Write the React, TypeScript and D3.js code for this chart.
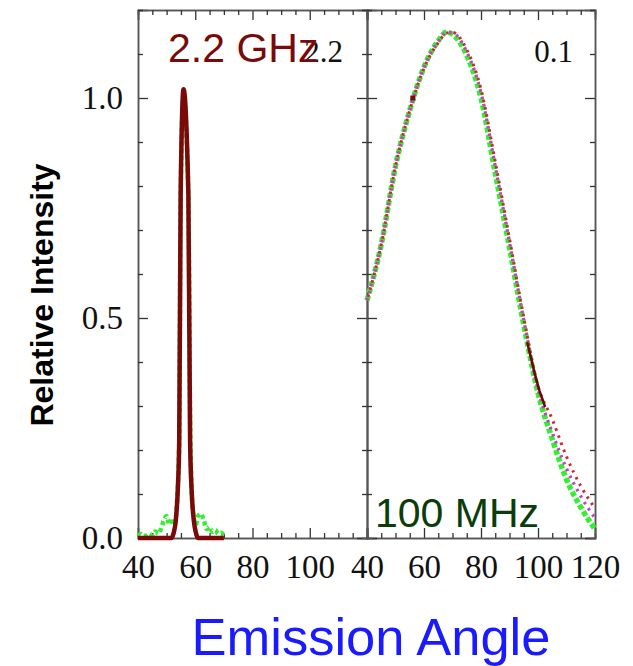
import React, { useRef, useEffect } from 'react';
import * as d3 from 'd3';

// Left panel (2.2 GHz)
const leftGreenX = [40, 41, 42, 43, 44, 45, 46, 47, 48, 49, 50, 51, 52, 52.8, 53.6, 54.4, 54.9, 55.9, 57.6, 58.3, 59.2, 60.2, 61, 62, 63, 64, 65, 66, 67, 68, 69, 70];
const leftGreenY = [0.005, 0.009, 0.004, 0.006, 0.01, 0.006, 0.015, 0.01, 0.02, 0.04, 0.05, 0.03, 0.045, 0.03, 0.08, 0.22, 0.78, 1.0, 0.78, 0.22, 0.06, 0.03, 0.05, 0.055, 0.04, 0.02, 0.025, 0.014, 0.018, 0.01, 0.012, 0.004];
const leftRedX = [40, 51.6, 52.4, 53.2, 53.9, 54.4, 54.9, 55.9, 57.6, 58.2, 58.8, 59.5, 60.3, 61, 70];
const leftRedY = [0, 0, 0.01, 0.04, 0.11, 0.22, 0.78, 1.02, 0.78, 0.22, 0.1, 0.04, 0.01, 0, 0];

// Right panel (100 MHz)
const rightX = [40, 45, 50, 55, 60, 65, 68, 70, 75, 80, 85, 90, 95, 100, 105, 110, 115, 120];
const rightGreenY = [0.54, 0.667, 0.845, 0.972, 1.07, 1.13, 1.15, 1.145, 1.097, 1.0, 0.83, 0.66, 0.485, 0.33, 0.225, 0.133, 0.07, 0.02];
const rightMagentaY = [0.54, 0.667, 0.845, 0.972, 1.07, 1.128, 1.149, 1.148, 1.105, 1.012, 0.845, 0.672, 0.495, 0.338, 0.24, 0.158, 0.095, 0.045];
const rightRedY = [0.54, 0.667, 0.845, 0.972, 1.068, 1.126, 1.148, 1.149, 1.11, 1.02, 0.855, 0.68, 0.5, 0.345, 0.27, 0.185, 0.118, 0.068];
const rightDarkX = [96.2, 97.5, 99, 100.5, 102.5];
const rightDarkY = [0.445, 0.41, 0.37, 0.335, 0.298];

const xMajor = [40, 60, 80, 100, 120];
const leftXLabels = [40, 60, 80, 100];
const rightXLabels = [40, 60, 80, 100, 120];
const yMajor = [0, 0.5, 1.0];

export default function App() {
  const ref = useRef<SVGSVGElement>(null);
  useEffect(() => {
    const svg = d3.select(ref.current);
    svg.selectAll('*').remove();
    const top = 10, bottom = 538;
    const xL = d3.scaleLinear().domain([40, 120]).range([138, 367]);
    const xR = d3.scaleLinear().domain([40, 120]).range([367, 595]);
    const y = d3.scaleLinear().domain([0, 1.2]).range([bottom, top]);
    const axisColor = '#555';
    const minorX = d3.range(40, 121, 5).filter((v) => v % 20 !== 0);
    const minorY = d3.range(0, 1.21, 0.1).map((v) => Math.round(v * 10) / 10).filter((v) => !yMajor.includes(v));

    const panel = (x: d3.ScaleLinear<number, number>, labels: number[], leftLabels: boolean) => {
      const g = svg.append('g');
      g.append('g').attr('transform', `translate(0,${bottom})`)
        .call(d3.axisBottom(x).tickValues(xMajor).tickSize(-10).tickPadding(17).tickFormat((d: any) => labels.includes(+d) ? String(d) : ''));
      g.append('g').attr('transform', `translate(0,${bottom})`)
        .call(d3.axisBottom(x).tickValues(minorX).tickSize(-5).tickFormat(() => ''));
      g.append('g').attr('transform', `translate(0,${top})`)
        .call(d3.axisTop(x).tickValues(xMajor).tickSize(-10).tickFormat(() => ''));
      g.append('g').attr('transform', `translate(0,${top})`)
        .call(d3.axisTop(x).tickValues(minorX).tickSize(-5).tickFormat(() => ''));
      g.append('g').attr('transform', `translate(${x.range()[0]},0)`)
        .call(d3.axisLeft(y).tickValues(yMajor).tickSize(-10).tickPadding(15).tickFormat((d: any) => leftLabels ? d3.format('.1f')(d) : ''));
      g.append('g').attr('transform', `translate(${x.range()[0]},0)`)
        .call(d3.axisLeft(y).tickValues(minorY).tickSize(-5).tickFormat(() => ''));
      g.append('g').attr('transform', `translate(${x.range()[1]},0)`)
        .call(d3.axisRight(y).tickValues(yMajor).tickSize(-10).tickFormat(() => ''));
      g.append('g').attr('transform', `translate(${x.range()[1]},0)`)
        .call(d3.axisRight(y).tickValues(minorY).tickSize(-5).tickFormat(() => ''));
      g.selectAll('.domain').attr('stroke', axisColor).attr('stroke-width', 1.5);
      g.selectAll('.tick line').attr('stroke', '#333').attr('stroke-width', 1.3);
      g.selectAll('text').attr('font-family', '"Liberation Serif", "Times New Roman", serif').attr('font-size', 33).attr('fill', '#111');
    };
    panel(xL, leftXLabels, true);
    panel(xR, rightXLabels, false);

    // left panel curves
    const lineL = d3.line<number>().x((_, i) => xL(leftGreenX[i])).y((d) => y(d)).curve(d3.curveMonotoneX);
    svg.append('path').attr('d', lineL(leftGreenY)).attr('fill', 'none').attr('stroke', '#33ee33')
      .attr('stroke-width', 4.5).attr('stroke-dasharray', '4 3');
    const lineLR = d3.line<number>().x((_, i) => xL(leftRedX[i])).y((d) => y(d)).curve(d3.curveMonotoneX);
    svg.append('path').attr('d', lineLR(leftRedY)).attr('fill', 'none').attr('stroke', '#7a0a0a')
      .attr('stroke-width', 4.5).attr('stroke-linejoin', 'round');

    // right panel curves
    const lineR = (ys: number[]) => d3.line<number>().x((_, i) => xR(rightX[i])).y((d) => y(d)).curve(d3.curveMonotoneX)(ys);
    svg.append('path').attr('d', lineR(rightGreenY)).attr('fill', 'none').attr('stroke', '#33ee33')
      .attr('stroke-width', 5.5).attr('stroke-dasharray', '5 2.5');
    svg.append('path').attr('d', lineR(rightMagentaY)).attr('fill', 'none').attr('stroke', '#c83cc8')
      .attr('stroke-width', 3.2).attr('stroke-dasharray', '2.5 5');
    svg.append('path').attr('d', lineR(rightRedY)).attr('fill', 'none').attr('stroke', '#cc2a2a')
      .attr('stroke-width', 3).attr('stroke-dasharray', '2.5 5').attr('stroke-dashoffset', 3.7);
    const lineD = d3.line<number>().x((_, i) => xR(rightDarkX[i])).y((d) => y(d));
    svg.append('path').attr('d', lineD(rightDarkY)).attr('fill', 'none').attr('stroke', '#6a0808').attr('stroke-width', 2.5);
    svg.append('rect').attr('x', xR(56.1) - 2.5).attr('y', y(1.0) - 2.5).attr('width', 5).attr('height', 5).attr('fill', '#7a0a0a');

    // panel annotations
    svg.append('text').attr('x', 343).attr('y', 62).attr('text-anchor', 'end')
      .attr('font-family', '"Liberation Serif", serif').attr('font-size', 31).attr('fill', '#111').text('2.2');
    svg.append('text').attr('x', 573).attr('y', 62).attr('text-anchor', 'end')
      .attr('font-family', '"Liberation Serif", serif').attr('font-size', 31).attr('fill', '#111').text('0.1');
    svg.append('text').attr('x', 168).attr('y', 62)
      .attr('font-family', '"Liberation Sans", Arial, sans-serif').attr('font-size', 41).attr('fill', '#7a0a0a').text('2.2 GHz');
    svg.append('text').attr('x', 375).attr('y', 527)
      .attr('font-family', '"Liberation Sans", Arial, sans-serif').attr('font-size', 41).attr('fill', '#0b3d0b').text('100 MHz');

    // axis titles
    svg.append('text').attr('transform', 'translate(53,295) rotate(-90)').attr('text-anchor', 'middle')
      .attr('font-family', '"Liberation Sans", Arial, sans-serif').attr('font-weight', 'bold').attr('font-size', 32).attr('fill', '#000').text('Relative Intensity');
    svg.append('text').attr('x', 371).attr('y', 655).attr('text-anchor', 'middle')
      .attr('font-family', '"Liberation Sans", Arial, sans-serif').attr('font-size', 52.5).attr('fill', '#1a1aff').text('Emission Angle');
  }, []);
  return (
    <svg ref={ref} width={633} height={666} style={{ position: 'absolute', left: 0, top: 0, background: '#fff' }} />
  );
}
